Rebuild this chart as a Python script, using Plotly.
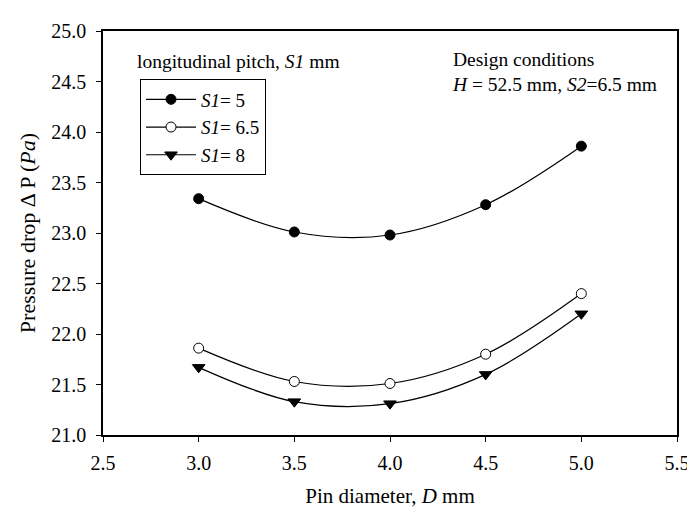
import plotly.graph_objects as go

pin_diameter = [3.0, 3.5, 4.0, 4.5, 5.0]
dp_s1_5 = [23.34, 23.01, 22.98, 23.28, 23.86]
dp_s1_65 = [21.86, 21.53, 21.51, 21.80, 22.40]
dp_s1_8 = [21.67, 21.33, 21.31, 21.60, 22.20]
series_names = ["<i>S1</i>= 5", "<i>S1</i>= 6.5", "<i>S1</i>= 8"]

FONT = "Liberation Serif"

fig = go.Figure()
styles = [
    dict(symbol="circle", color="black", size=10, line=dict(color="black", width=1)),
    dict(symbol="circle", color="white", size=10, line=dict(color="black", width=1)),
    dict(symbol="triangle-down", color="black", size=11, line=dict(color="black", width=1)),
]
for ys, name, mk in zip([dp_s1_5, dp_s1_65, dp_s1_8], series_names, styles):
    fig.add_trace(go.Scatter(
        x=pin_diameter, y=ys, name=name, mode="lines+markers",
        line=dict(color="black", width=1.2, shape="spline", smoothing=1),
        marker=mk,
    ))

fig.update_layout(
    width=695, height=508,
    margin=dict(l=95, r=26, t=19, b=75),
    paper_bgcolor="white", plot_bgcolor="white",
    font=dict(family=FONT, size=19, color="black"),
    showlegend=True,
    legend=dict(
        x=0.0645, y=0.880, xanchor="left", yanchor="top",
        bordercolor="black", borderwidth=1, bgcolor="white",
        font=dict(family=FONT, size=19, color="black"),
        tracegroupgap=0, itemwidth=50,
    ),
    xaxis=dict(
        range=[2.5, 5.5], dtick=0.5, tick0=2.5, tickformat=".1f",
        ticks="outside", ticklen=5, tickwidth=1, tickcolor="black",
        showline=True, linecolor="black", linewidth=1.5, mirror=True,
        showgrid=False, zeroline=False, ticklabelstandoff=4,
        title=dict(text="Pin diameter, <i>D</i> mm", font=dict(family=FONT, size=21), standoff=16),
        tickfont=dict(family=FONT, size=20),
    ),
    yaxis=dict(
        range=[21.0, 25.0], dtick=0.5, tick0=21.0, tickformat=".1f",
        ticks="outside", ticklen=5, tickwidth=1, tickcolor="black",
        showline=True, linecolor="black", linewidth=1.5, mirror=True,
        showgrid=False, zeroline=False, ticklabelstandoff=6,
        title=dict(text="Pressure drop Δ P (<i>Pa</i>)", font=dict(family=FONT, size=22), standoff=10),
        tickfont=dict(family=FONT, size=20),
    ),
)

fig.add_annotation(
    xref="paper", yref="paper", x=0.055, y=0.924, xanchor="left", yanchor="middle",
    text="longitudinal pitch, <i>S1</i> mm", showarrow=False,
    font=dict(family=FONT, size=19.5, color="black"),
)
fig.add_annotation(
    xref="paper", yref="paper", x=0.604, y=0.899, xanchor="left", yanchor="middle",
    text="Design conditions<br><i>H</i> = 52.5 mm, <i>S2</i>=6.5 mm", showarrow=False, align="left",
    font=dict(family=FONT, size=19.5, color="black"),
)

fig.write_html("out.html")
